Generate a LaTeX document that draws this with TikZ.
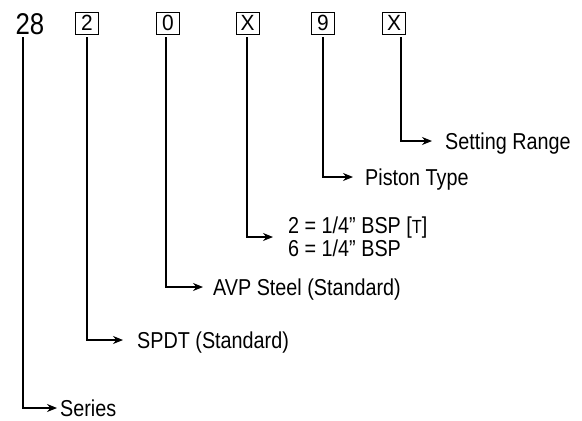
\documentclass[tikz,border=0pt]{standalone}
\usepackage{fontspec}
\setmainfont{Liberation Sans}[FakeStretch=0.86]
\newfontfamily\boxfont{Liberation Sans}[FakeStretch=0.95]
\usetikzlibrary{arrows.meta}

\tikzset{
  codebox/.style={draw, line width=0.9pt, minimum width=23pt, minimum height=22pt,
    inner sep=0pt, font=\boxfont\fontsize{22}{22}\selectfont},
  labelbase/.style={anchor=west, inner sep=0pt, align=left, font=\fontsize{23}{23}\selectfont},
  label/.style={labelbase, text height=16.5pt, text depth=0pt},
  lead/.style={line width=1.1pt, -{Stealth[length=10pt,width=8pt]}}
}

\begin{document}
\begin{tikzpicture}[x=1pt, y=-1pt]
    \useasboundingbox (0,0) rectangle (582,421);

    % Order code
    \node[anchor=base, inner sep=0pt, font=\fontsize{30}{30}\selectfont] (n28) at (30,34) {28};
    \node[codebox] (b2) at (87,23) {2};
    \node[codebox] (b0) at (168,23) {0};
    \node[codebox] (bx1) at (247.5,23) {X};
    \node[codebox] (b9) at (323,23) {9};
    \node[codebox] (bx2) at (394,23) {X};

    % Descriptions
    \node[label] (series) at (60,408) {Series};
    \node[label] (spdt) at (137,340) {SPDT (Standard)};
    \node[label] (avp) at (213,287) {AVP Steel (Standard)};
    \node[labelbase] (bsp) at (288,237) {2 = 1/4” BSP [{\fontsize{19}{20}\selectfont T}]\\6 = 1/4” BSP};
    \node[label] (piston) at (365,177) {Piston Type};
    \node[label] (setting) at (445,141) {Setting Range};

    % Leaders
    \draw[lead, shorten >=3pt] ([xshift=-7pt, yshift=-3pt]n28.south) |- (series.west);
    \draw[lead, shorten >=14pt] ([yshift=-3pt]b2.south) |- (spdt.west);
    \draw[lead, shorten >=10pt] ([xshift=-2pt, yshift=-3pt]b0.south) |- (avp.west);
    \draw[lead, shorten >=15pt] ([xshift=-0.5pt, yshift=-3pt]bx1.south) |- (bsp.west);
    \draw[lead, shorten >=12pt] ([yshift=-3pt]b9.south) |- (piston.west);
    \draw[lead, shorten >=13pt] ([xshift=7pt, yshift=-3pt]bx2.south) |- (setting.west);
\end{tikzpicture}
\end{document}
